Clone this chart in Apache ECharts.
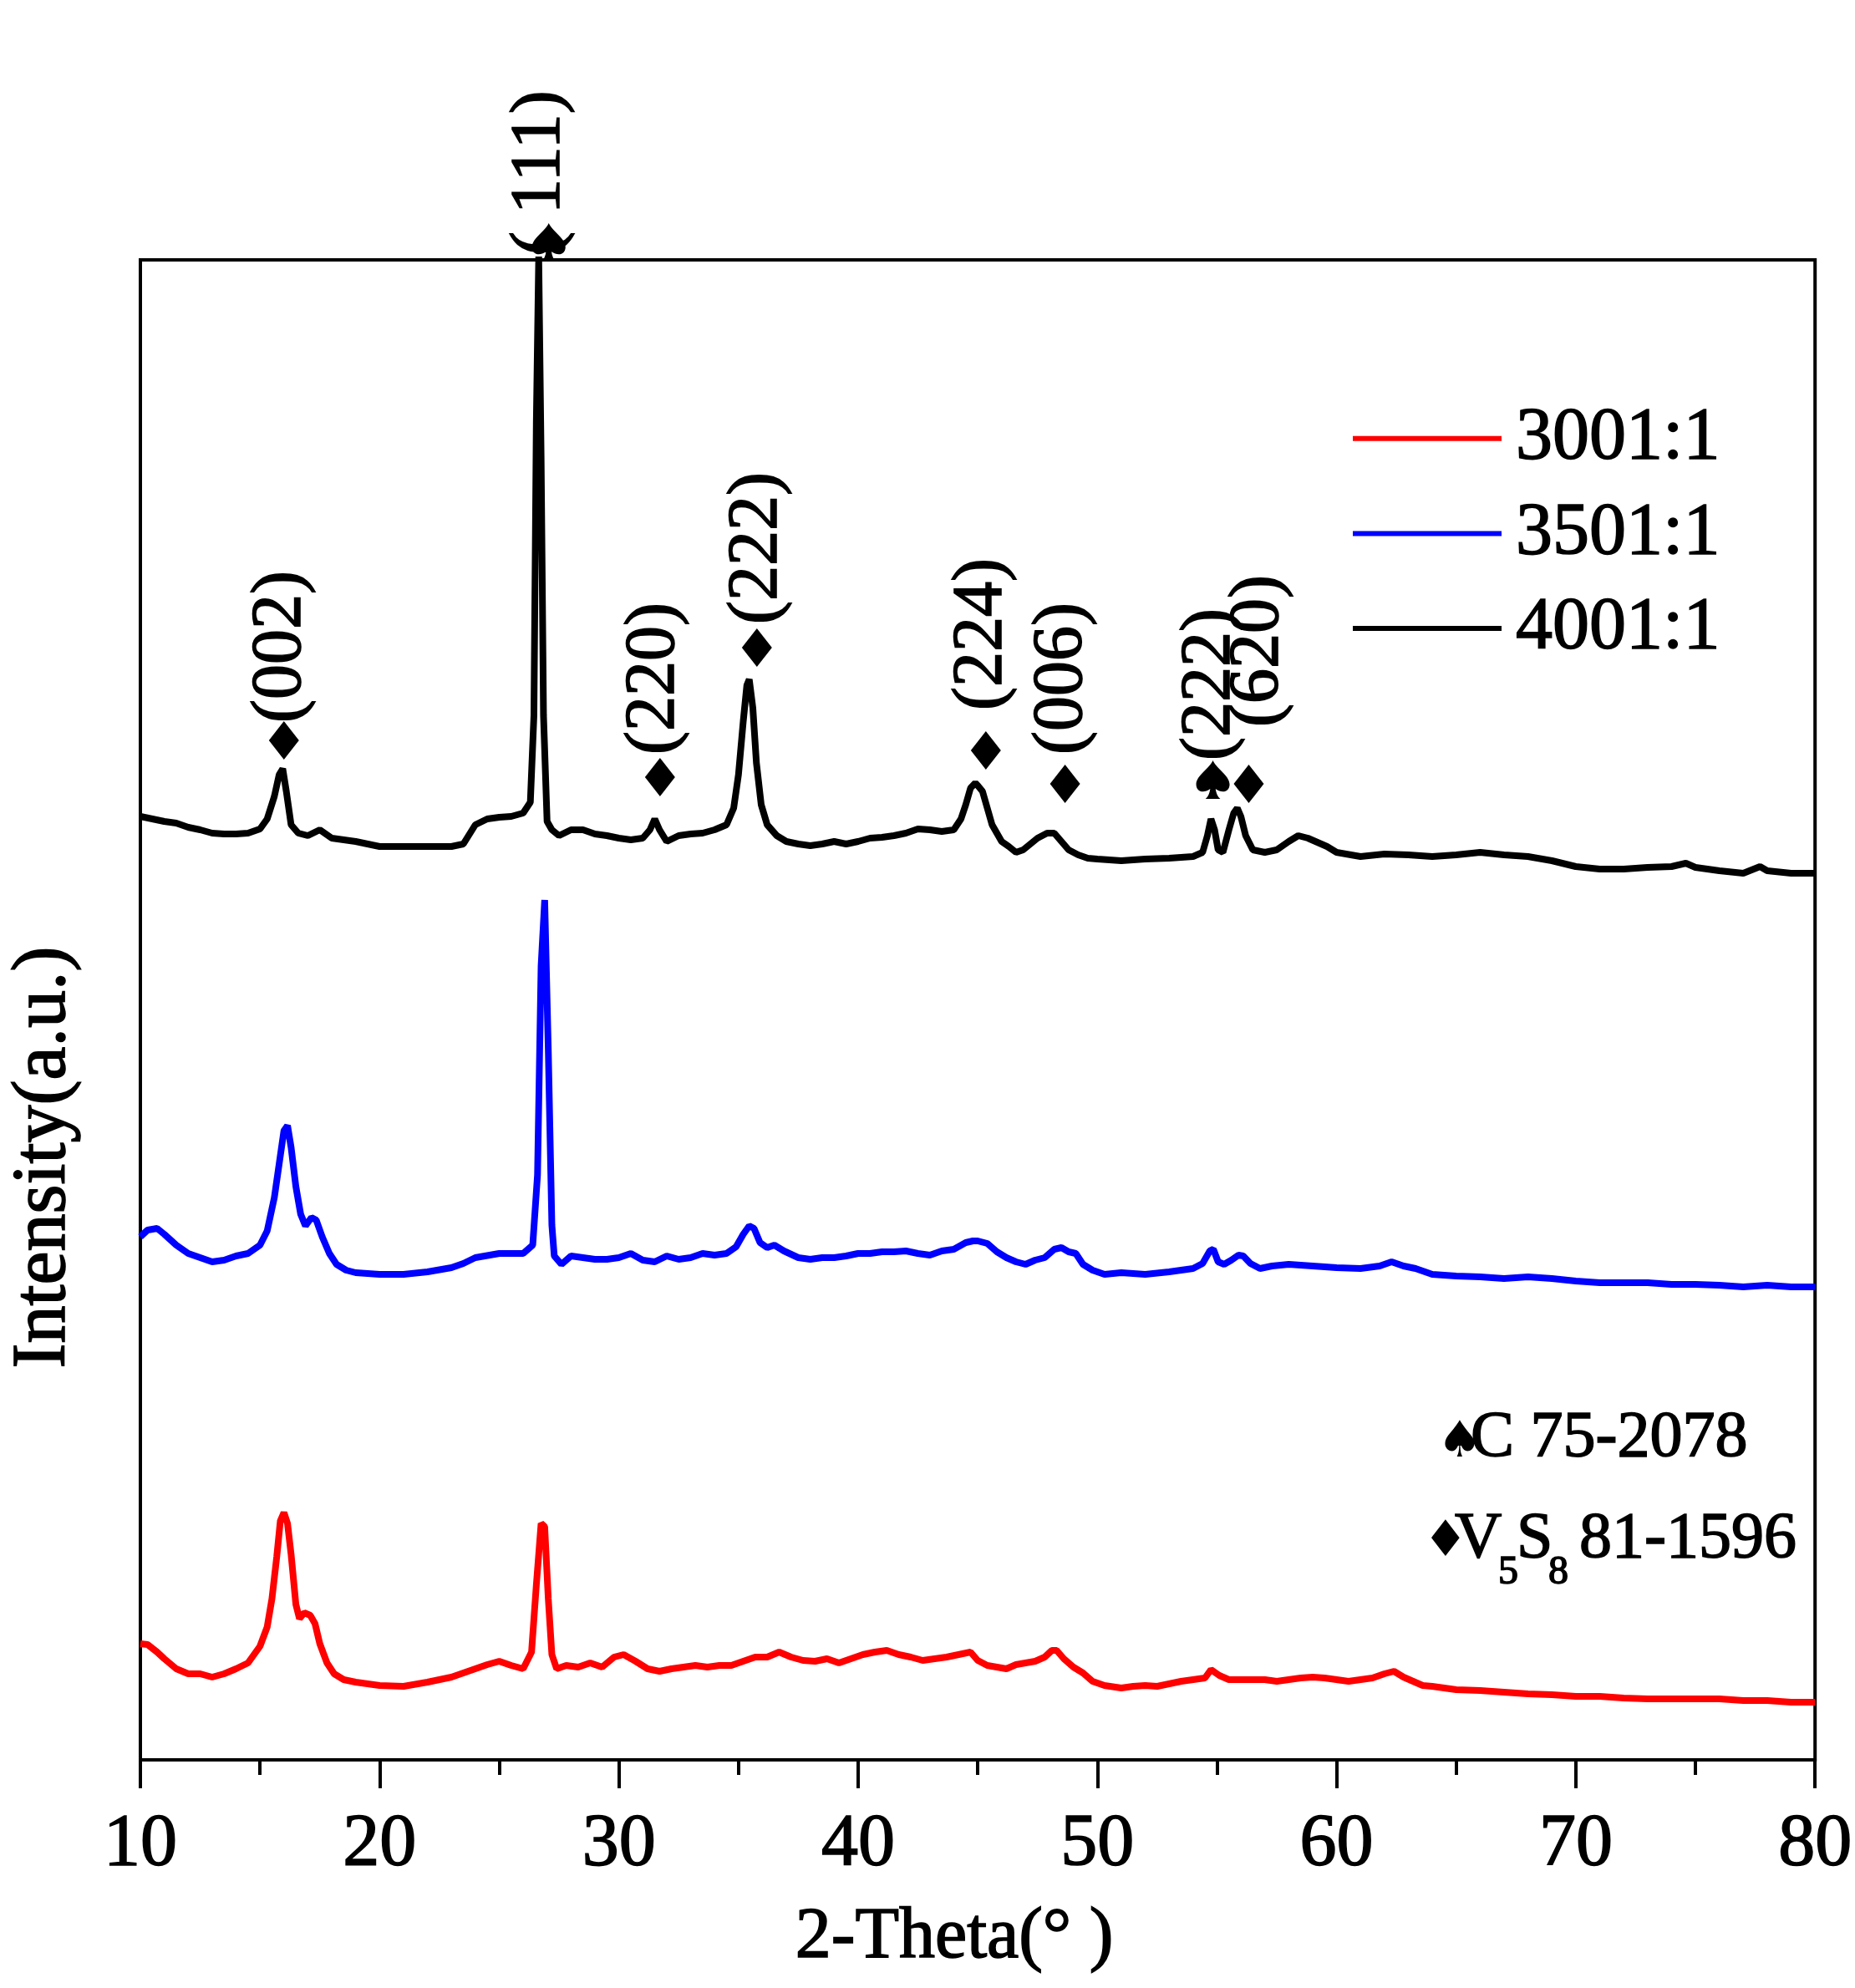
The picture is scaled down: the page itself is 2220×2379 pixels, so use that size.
<!DOCTYPE html>
<html>
<head>
<meta charset="utf-8">
<title>XRD patterns</title>
<script src="https://cdn.jsdelivr.net/npm/echarts@6/dist/echarts.min.js"></script>
<style>
  html, body { margin: 0; padding: 0; background: #fff; }
  #chart { width: 2220px; height: 2379px; }
</style>
</head>
<body>
<div id="chart"></div>
<script>
// 2-theta (deg) and intensity (a.u., stacked offsets)
const theta3001 = [10,10.3,10.7,11,11.5,12,12.5,13,13.5,14,14.5,15,15.3,15.5,15.7,15.85,16,16.15,16.3,16.5,16.65,16.85,17.1,17.3,17.5,17.8,18.1,18.5,19,20,21,22,23,23.5,24,24.5,25,25.5,26,26.35,26.55,26.75,26.9,27.05,27.2,27.4,27.8,28.3,28.8,29.3,29.8,30.2,30.7,31.2,31.7,32.2,32.7,33.2,33.7,34.2,34.7,35.2,35.7,36.2,36.7,37.2,37.7,38.2,38.7,39.2,39.7,40.2,40.7,41.2,41.7,42.2,42.7,43.2,43.7,44.2,44.7,45,45.4,45.8,46.2,46.6,47,47.4,47.8,48.1,48.3,48.6,49,49.4,49.8,50.3,51,51.5,52,52.5,53,53.5,54,54.5,54.75,55.1,55.5,56,56.5,57,57.5,58,58.5,59,59.5,60,60.5,61,61.5,62,62.4,62.8,63.2,63.6,64,65,66,67,68,69,70,71,72,73,74,75,76,77,78,79,80];
const int3001 = [139,138,129,121,109,103,103,99,103,109,116,136,159,193,243,286,296,283,246,186,169,176,173,163,139,116,103,96,93,89,88,93,99,104,109,114,118,113,109,129,209,283,279,193,126,109,113,111,116,111,123,126,118,109,106,109,111,113,111,113,113,118,123,123,129,123,119,118,121,116,121,126,129,131,126,123,119,121,123,126,129,119,113,111,109,114,116,118,123,131,131,121,111,104,94,89,86,88,89,88,91,94,96,98,108,101,96,96,96,96,94,96,98,99,98,96,94,96,98,103,106,99,94,89,88,84,83,81,79,78,76,76,74,73,73,73,73,71,71,69,69];

const theta3501 = [10,10.3,10.7,11,11.5,12,12.5,13,13.5,14,14.5,15,15.3,15.6,15.8,16,16.15,16.3,16.5,16.7,16.9,17.15,17.35,17.6,17.9,18.2,18.6,19,20,21,22,23,23.5,24,25,26,26.4,26.6,26.75,26.9,27.05,27.2,27.3,27.6,28,28.5,29,29.5,30,30.5,31,31.5,32,32.5,33,33.5,34,34.5,34.9,35.2,35.45,35.65,35.9,36.2,36.5,36.9,37.5,38,38.5,39,39.5,40,40.5,41,41.5,42,42.5,43,43.5,44,44.5,44.8,45,45.4,45.8,46.2,46.6,47,47.4,47.8,48.2,48.5,48.8,49.1,49.4,49.8,50.3,51,52,53,54,54.4,54.7,54.85,55.05,55.3,55.6,55.9,56.1,56.4,56.8,57.3,58,59,60,61,61.8,62.3,62.8,63.3,64,65,66,67,68,69,70,71,72,73,74,75,76,77,78,79,80];
const int3501 = [626,634,636,629,616,606,601,596,598,603,606,616,633,673,713,753,759,733,686,653,639,649,646,626,606,593,586,583,581,581,584,589,594,601,606,606,616,700,950,1029,850,640,603,593,603,601,599,599,601,606,598,596,603,599,601,606,604,606,614,629,639,636,619,613,616,609,601,599,601,601,603,606,606,608,608,609,606,604,609,611,619,621,621,618,608,601,596,593,598,601,611,613,608,606,593,586,581,583,581,584,588,594,609,611,596,593,598,604,603,594,588,591,593,591,589,588,591,596,591,588,581,579,578,576,578,576,573,571,571,571,569,569,568,566,568,566,566];

const theta4001 = [10,10.5,11,11.5,12,12.5,13,13.5,14,14.5,15,15.3,15.6,15.8,15.95,16.1,16.3,16.6,17,17.5,18,19,20,21,22,23,23.5,24,24.5,25,25.5,26,26.3,26.45,26.55,26.65,26.75,26.85,27,27.2,27.5,28,28.5,29,29.5,30,30.5,31,31.3,31.5,31.7,32,32.5,33,33.5,34,34.5,34.8,35,35.2,35.35,35.45,35.6,35.75,35.95,36.2,36.6,37,37.5,38,38.5,39,39.5,40,40.5,41,41.5,42,42.5,43,43.5,44,44.3,44.5,44.7,44.9,45,45.2,45.4,45.6,45.8,46,46.3,46.6,46.9,47.2,47.5,47.9,48.2,48.5,48.8,49.2,49.6,50,51,52,53,54,54.4,54.6,54.75,54.9,55.05,55.25,55.5,55.7,55.85,56,56.2,56.5,57,57.5,58,58.4,58.8,59.2,59.6,60,61,62,63,64,65,66,67,68,69,70,71,72,73,74,74.6,75,76,77,77.7,78,79,80];
const int4001 = [1129,1126,1123,1121,1116,1113,1109,1108,1108,1109,1114,1126,1153,1179,1186,1159,1119,1109,1106,1113,1103,1099,1093,1093,1093,1093,1096,1119,1126,1128,1129,1133,1146,1250,1600,1800,1560,1250,1123,1113,1106,1113,1113,1108,1106,1103,1101,1103,1113,1126,1113,1099,1106,1108,1109,1113,1119,1139,1179,1243,1286,1293,1259,1193,1143,1119,1106,1099,1096,1094,1096,1099,1096,1099,1103,1104,1106,1109,1114,1113,1111,1113,1126,1143,1163,1169,1166,1159,1139,1119,1109,1099,1093,1086,1089,1096,1103,1109,1109,1099,1089,1083,1079,1078,1076,1078,1079,1081,1086,1106,1126,1113,1089,1086,1113,1133,1139,1129,1106,1089,1086,1089,1099,1106,1103,1098,1093,1086,1081,1084,1083,1081,1083,1086,1083,1081,1076,1069,1066,1066,1068,1069,1073,1068,1064,1061,1069,1064,1061,1061];

// peak markers: position, phase (C = carbon spade, V = V5S8 diamond)
const peakTheta = [16.0, 27.07, 31.72, 35.77, 45.34, 48.65, 54.83, 56.33];
const peakMarkY = [1220, 1816, 1176, 1331, 1208, 1168, 1173, 1168];
const peakPhase = ['V', 'C', 'V', 'V', 'V', 'V', 'C', 'V'];

// hkl labels (written upward from the base point)
const hklText = ['(002)', '( 111)', '(220)', '(222)', '(224)', '(006)', '(222)', '(620)'];
const hklTheta = [15.9, 26.72, 31.5, 35.8, 45.2, 48.55, 54.73, 56.75];
const hklBaseY = [1241, 1801, 1203, 1359, 1256, 1203, 1196, 1236];

const xTicks = [10, 20, 30, 40, 50, 60, 70, 80];

const FONT = '"Liberation Serif", "Times New Roman", serif';
const SPADE = 'path://M50 0 C40 20 0 40 0 62 C0 80 20 88 42 74 C40 86 36 94 28 100 L72 100 C64 94 60 86 58 74 C80 88 100 80 100 62 C100 40 60 20 50 0 Z';
// heavier strokes, like the original's rendering (series / axis text)
const INK = { textBorderColor: '#000', textBorderWidth: 1.6 };

const zip = (xs, ys) => xs.map((x, i) => [x, ys[i]]);

const lineSeries = (name, xs, ys, color) => ({
  name: name,
  type: 'line',
  data: zip(xs, ys),
  symbol: 'none',
  showSymbol: false,
  lineStyle: { color: color, width: 8 },
  itemStyle: { color: color },
  z: 3
});

// free text element (graphic text strokes its glyphs via stroke/lineWidth)
const txt = (x, y, text, size, family, extra) => ({
  type: 'text', x: x, y: y,
  style: Object.assign({
    text: text, fontFamily: family || FONT, fontSize: size,
    fill: '#000', stroke: '#000', lineWidth: 1.6,
    align: 'left', verticalAlign: 'middle'
  }, extra || {})
});

const chart = echarts.init(document.getElementById('chart'));

const yTitle = txt(53, 1385, 'Intensity(a.u.)', 90, FONT, { align: 'center' });
yTitle.rotation = Math.PI / 2;

chart.setOption({
  animation: false,
  backgroundColor: '#fff',
  grid: {
    left: 168, right: 47, top: 311, bottom: 273,
    show: true, borderColor: '#000', borderWidth: 4
  },
  legend: {
    data: ['3001:1', '3501:1', '4001:1'],
    orient: 'vertical',
    left: 1614,
    top: 475,
    icon: 'rect',
    itemWidth: 178,
    itemHeight: 6,
    itemGap: 24,
    textStyle: Object.assign({ fontFamily: FONT, fontSize: 88, color: '#000', padding: [0, 0, 0, 12] }, INK)
  },
  xAxis: {
    type: 'value',
    min: 10, max: 80, interval: 10,
    axisLine: { show: true, onZero: false, lineStyle: { color: '#000', width: 4 } },
    axisTick: { show: true, inside: false, length: 34, lineStyle: { color: '#000', width: 4 } },
    minorTick: { show: true, splitNumber: 2, length: 18, lineStyle: { color: '#000', width: 4 } },
    axisLabel: Object.assign({
      margin: 58, fontFamily: FONT, fontSize: 88, color: '#000',
      customValues: xTicks
    }, INK),
    splitLine: { show: false },
    name: '2-Theta(° )',
    nameLocation: 'middle',
    nameGap: 170,
    nameTextStyle: Object.assign({ fontFamily: FONT, fontSize: 86, color: '#000', padding: [0, 56, 0, 0] }, INK)
  },
  yAxis: {
    type: 'value',
    min: 0, max: 1795,
    axisLine: { show: true, lineStyle: { color: '#000', width: 4 } },
    axisTick: { show: false },
    axisLabel: { show: false },
    splitLine: { show: false }
  },
  graphic: [
    yTitle,
    txt(1720, 1727, '\u2660', 60, 'DejaVu Sans', { lineWidth: 0 }),
    txt(1760, 1722, 'C 75-2078', 78),
    txt(1703, 1846, '\u2666', 60, 'DejaVu Sans', { lineWidth: 0 }),
    txt(1741, 1843, 'V', 78),
    txt(1793, 1882, '5', 48),
    txt(1815, 1843, 'S', 78),
    txt(1853, 1882, '8', 48),
    txt(1890, 1843, '81-1596', 78)
  ],
  series: [
    lineSeries('3001:1', theta3001, int3001, '#ff0000'),
    lineSeries('3501:1', theta3501, int3501, '#0000ff'),
    lineSeries('4001:1', theta4001, int4001, '#000000'),
    {
      name: 'markers',
      type: 'scatter',
      clip: false,
      z: 5,
      data: peakTheta.map((t, i) => ({
        value: [t, peakMarkY[i]],
        symbol: peakPhase[i] === 'C' ? SPADE : 'diamond',
        symbolSize: peakPhase[i] === 'C' ? [40, 46] : [36, 46]
      })),
      itemStyle: { color: '#000', opacity: 1 }
    },
    {
      name: 'hkl',
      type: 'scatter',
      clip: false,
      z: 6,
      symbolSize: 0,
      itemStyle: { opacity: 1 },
      data: hklTheta.map((t, i) => ({ value: [t, hklBaseY[i]], name: hklText[i] })),
      label: Object.assign({
        show: true,
        formatter: p => p.name,
        position: [0, 0],
        rotate: 90,
        align: 'left',
        verticalAlign: 'middle',
        fontFamily: FONT,
        fontSize: 84,
        color: '#000',
        opacity: 1
      }, INK)
    }
  ]
});
</script>
</body>
</html>
